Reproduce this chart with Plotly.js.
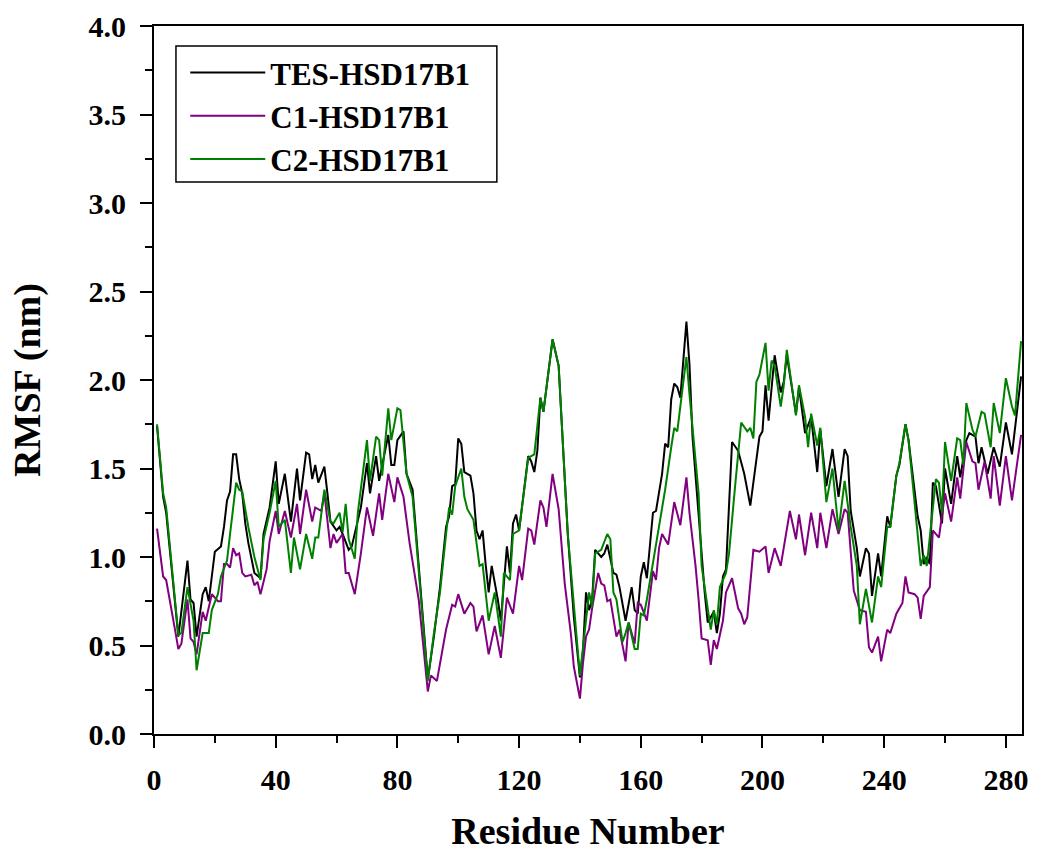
<!DOCTYPE html>
<html>
<head>
<meta charset="utf-8">
<script src="https://cdn.plot.ly/plotly-3.0.1.min.js"></script>
<style>html,body{margin:0;padding:0;background:#fff;}#chart{width:1038px;height:855px;}</style>
</head>
<body>
<div id="chart"></div>
<script>
// Residue numbers and RMSF (nm)
const xTES = [1,3,4,8,11,12,13,14,16,17,18,19,20,22,23,24,25,26,27,28,29,30,31,33,35,36,38,40,41,43,45,47,48,50,51,52,53,54,56,57,58,60,61,62,64,65,68,70,71,73,74,77,78,79,80,82,83,85,87,90,92,94,96,97,98,99,100,101,102,104,105,106,107,108,109,110,111,113,114,115,116,117,118,119,120,123,124,125,126,127,128,131,133,136,138,140,141,142,143,144,145,147,148,149,151,152,153,155,157,158,159,160,161,162,164,165,167,168,169,170,171,172,173,175,176,177,179,181,182,184,185,186,187,188,190,192,194,196,199,200,201,202,204,206,207,208,211,212,214,216,218,219,221,223,225,227,228,229,231,232,234,235,236,238,239,241,242,244,245,247,248,251,252,253,254,255,256,257,259,260,262,264,265,267,268,270,271,272,274,276,278,280,282,285];
const yTES = [1.74,1.34,1.25,0.55,0.98,0.76,0.74,0.55,0.79,0.83,0.75,0.89,1.03,1.06,1.17,1.32,1.37,1.58,1.58,1.44,1.36,1.19,1.08,0.91,0.88,1.13,1.28,1.54,1.30,1.47,1.20,1.50,1.32,1.59,1.58,1.44,1.52,1.42,1.51,1.36,1.20,1.15,1.17,1.13,1.04,1.06,1.28,1.53,1.36,1.57,1.43,1.69,1.52,1.52,1.66,1.71,1.47,1.38,0.95,0.31,0.55,0.83,1.17,1.23,1.40,1.41,1.67,1.64,1.48,1.46,1.36,1.15,1.10,1.15,0.96,0.80,0.95,0.76,0.64,0.85,1.06,0.91,1.19,1.24,1.15,1.57,1.54,1.48,1.60,1.90,1.82,2.23,2.08,1.13,0.66,0.32,0.47,0.80,0.70,0.76,1.04,1.00,1.02,1.07,0.91,0.90,0.83,0.64,0.83,0.70,0.68,0.89,0.97,0.88,1.25,1.26,1.47,1.64,1.62,1.89,1.98,1.96,1.90,2.33,2.09,1.68,1.23,0.80,0.63,0.69,0.57,0.68,0.89,0.93,1.65,1.60,1.47,1.29,1.68,1.71,1.97,1.77,2.14,1.93,1.99,2.14,1.81,1.96,1.70,1.79,1.48,1.72,1.40,1.61,1.34,1.61,1.57,1.26,1.05,0.89,1.05,1.02,0.78,1.02,0.89,1.23,1.17,1.46,1.52,1.75,1.66,1.23,1.15,0.96,1.00,0.96,1.42,1.40,1.19,1.50,1.30,1.57,1.45,1.66,1.70,1.68,1.53,1.62,1.47,1.62,1.51,1.76,1.58,2.02];

const xC1 = [1,3,4,6,7,8,9,11,12,13,14,16,17,19,21,22,23,24,25,26,27,28,29,30,32,33,34,35,37,38,40,41,43,45,47,48,50,52,53,55,56,58,59,60,62,63,64,66,68,70,72,74,75,77,79,80,82,84,87,90,91,93,94,96,98,99,100,102,104,105,106,108,110,112,114,116,118,120,121,123,124,125,127,128,129,131,133,135,137,138,140,141,142,143,144,146,147,148,149,150,152,153,155,156,158,159,160,162,164,165,166,167,169,171,173,175,176,178,179,180,182,183,184,185,187,188,190,192,193,194,195,197,199,201,202,204,206,209,211,212,214,216,218,219,221,223,225,227,228,229,230,232,234,235,236,238,239,241,242,244,246,247,248,250,251,252,253,255,256,258,260,262,264,265,267,269,270,271,273,275,276,278,280,282,285];
const yC1 = [1.16,0.89,0.87,0.66,0.58,0.48,0.51,0.76,0.54,0.52,0.45,0.69,0.64,0.79,0.75,0.75,0.96,0.96,0.94,1.05,1.01,1.02,0.91,0.89,0.90,0.84,0.86,0.79,0.93,1.09,1.26,1.13,1.26,1.11,1.30,1.13,1.38,1.20,1.28,1.26,1.36,1.05,1.13,1.08,1.13,0.91,0.91,0.79,1.02,1.28,1.12,1.36,1.21,1.47,1.31,1.45,1.34,1.08,0.76,0.24,0.33,0.30,0.40,0.59,0.73,0.72,0.79,0.68,0.74,0.72,0.58,0.67,0.45,0.61,0.43,0.77,0.68,0.95,0.87,1.16,1.15,1.07,1.32,1.28,1.17,1.47,1.27,0.85,0.57,0.38,0.20,0.40,0.55,0.59,0.71,0.91,0.85,0.84,0.75,0.76,0.55,0.59,0.41,0.63,0.51,0.74,0.73,0.64,0.92,0.87,1.05,1.13,1.07,1.31,1.18,1.45,1.25,0.95,0.76,0.54,0.53,0.39,0.53,0.48,0.64,0.80,0.88,0.71,0.68,0.62,0.66,1.04,1.03,1.06,0.91,1.05,0.95,1.26,1.10,1.24,1.01,1.25,1.05,1.25,1.05,1.27,1.13,1.27,1.25,1.02,0.81,0.70,0.69,0.49,0.46,0.55,0.41,0.59,0.57,0.68,0.74,0.89,0.80,0.79,0.77,0.65,0.78,0.83,1.15,1.11,1.36,1.20,1.45,1.33,1.65,1.54,1.53,1.38,1.54,1.33,1.57,1.29,1.57,1.32,1.69];

const xC2 = [1,3,4,8,9,11,13,14,16,18,19,21,22,24,25,27,28,29,31,33,35,36,38,40,41,43,45,46,48,50,52,53,54,56,58,59,61,62,63,64,66,67,70,71,73,74,75,77,78,80,81,83,85,90,92,94,96,97,98,99,101,102,103,105,107,108,110,112,114,115,117,118,120,122,123,125,127,128,131,133,136,140,143,144,145,147,149,150,151,152,154,155,156,158,159,160,161,162,164,165,167,168,170,171,172,175,176,179,180,182,183,184,185,186,188,189,190,191,193,195,196,197,198,199,201,202,203,204,206,207,208,211,212,214,215,216,218,219,221,223,225,227,229,231,232,234,236,238,239,241,242,244,245,247,248,250,251,252,253,254,257,258,259,260,262,264,265,266,267,269,270,272,273,275,276,278,280,282,283,285];
const yC2 = [1.75,1.36,1.28,0.56,0.57,0.83,0.64,0.36,0.57,0.57,0.70,0.79,0.89,0.98,1.13,1.42,1.38,1.37,1.17,1.00,0.87,1.10,1.25,1.43,1.17,1.21,0.91,1.11,0.93,1.13,0.99,1.11,1.11,1.38,1.20,1.19,1.25,1.14,1.30,1.10,0.99,1.25,1.66,1.43,1.68,1.66,1.46,1.84,1.66,1.84,1.83,1.47,1.34,0.30,0.57,0.80,1.13,1.28,1.24,1.40,1.50,1.34,1.27,1.21,0.95,0.96,0.64,0.80,0.55,0.91,0.87,1.13,1.15,1.44,1.56,1.58,1.90,1.82,2.23,2.08,1.13,0.33,0.80,0.72,1.02,1.04,1.13,1.10,0.80,0.76,0.52,0.57,0.63,0.48,0.48,0.68,0.67,0.76,0.97,1.06,1.28,1.38,1.62,1.73,1.71,2.13,1.92,1.36,0.95,0.70,0.59,0.70,0.62,0.83,0.91,1.02,1.19,1.40,1.76,1.71,1.73,1.67,1.99,2.03,2.21,1.94,2.11,2.08,1.85,1.97,2.17,1.80,1.97,1.79,1.62,1.81,1.63,1.73,1.31,1.50,1.15,1.43,1.17,0.95,0.62,0.82,0.63,0.89,0.83,1.17,1.17,1.46,1.53,1.75,1.66,1.32,1.15,0.95,1.01,0.95,1.44,1.42,1.25,1.65,1.43,1.67,1.66,1.52,1.87,1.72,1.68,1.82,1.81,1.62,1.87,1.70,2.01,1.85,1.80,2.22];

const seriesNames = ['TES-HSD17B1','C1-HSD17B1','C2-HSD17B1'];
const seriesColors = ['#000000','#800080','#008000'];
const xTicks = [0,40,80,120,160,200,240,280];
const yTicks = [0.0,0.5,1.0,1.5,2.0,2.5,3.0,3.5,4.0];

const FONT = 'Liberation Serif, Times New Roman, serif';
const xs = [xTES, xC1, xC2], ys = [yTES, yC1, yC2];
const traces = seriesNames.map((n,i)=>({
  type:'scatter', mode:'lines', name:n, x:xs[i], y:ys[i],
  line:{color:seriesColors[i], width:2}
}));

const axisCommon = {
  showline:true, linecolor:'#000', linewidth:2, mirror:true,
  ticks:'outside', tickcolor:'#000', tickwidth:2, ticklen:12,
  showgrid:false, zeroline:false,
  tickfont:{family:FONT, size:30, color:'#000', weight:'bold'}
};
const layout = {
  width:1038, height:855,
  margin:{l:154, r:16, t:26, b:121},
  paper_bgcolor:'#fff', plot_bgcolor:'#fff',
  showlegend:true,
  legend:{x:0.036, y:0.972, xanchor:'left', yanchor:'top',
    borderwidth:0, bgcolor:'rgba(0,0,0,0)',
    font:{family:FONT, size:31, color:'#000', weight:'bold'},
    itemwidth:75, tracegroupgap:0},
  shapes:[{type:'rect', xref:'paper', yref:'paper',
    x0:0.0253, x1:0.395, y0:0.7797, y1:0.9718,
    line:{color:'#000', width:1.5}, fillcolor:'rgba(0,0,0,0)', layer:'above'}],
  xaxis:Object.assign({}, axisCommon, {
    range:[0,285.3], tickvals:xTicks, ticktext:xTicks.map(String),
    ticklabelstandoff:6,
    minor:{dtick:20, tick0:0, ticks:'outside', ticklen:7, tickwidth:2, tickcolor:'#000'},
    title:{text:'Residue Number', standoff:22, font:{family:FONT, size:38, color:'#000', weight:'bold'}}
  }),
  yaxis:Object.assign({}, axisCommon, {
    range:[0,4], tickvals:yTicks, ticktext:yTicks.map(v=>v.toFixed(1)),
    ticklabelstandoff:8,
    minor:{dtick:0.25, tick0:0, ticks:'outside', ticklen:7, tickwidth:2, tickcolor:'#000'},
    title:{text:'RMSF (nm)', standoff:36, font:{family:FONT, size:38, color:'#000', weight:'bold'}}
  })
};
Plotly.newPlot('chart', traces, layout, {displayModeBar:false, staticPlot:true});
</script>
</body>
</html>
